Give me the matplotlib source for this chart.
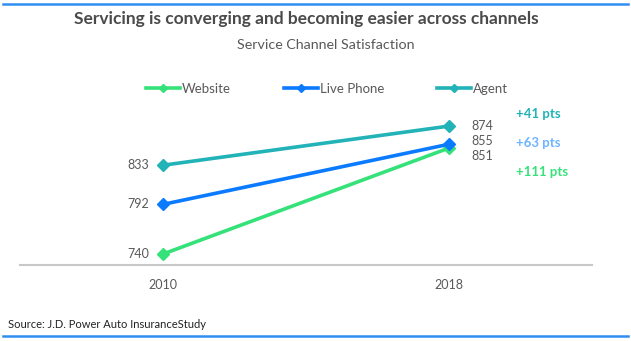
import matplotlib.pyplot as plt
from matplotlib.lines import Line2D

years = ['2010', '2018']
series = ['Website', 'Live Phone', 'Agent']
website = [740, 851]
live_phone = [792, 855]
agent = [833, 874]
gains = ['+111 pts', '+63 pts', '+41 pts']

colors = {'Website': '#35E27A', 'Live Phone': '#0A7BFF', 'Agent': '#22B3B9'}
gain_colors = ['#35E27A', '#6FB4FF', '#22B3B9']
grey = '#595959'

plt.rcParams['font.family'] = ['Lato', 'DejaVu Sans']

fig = plt.figure(figsize=(6.31, 3.41), dpi=100)
ax = fig.add_axes([20/631, (341-265)/341, 572/631, 190/341])

values = {'Website': website, 'Live Phone': live_phone, 'Agent': agent}
x = range(len(years))
for name in series:
    ax.plot(x, values[name], color=colors[name], lw=2.6, marker='D', ms=6,
            solid_capstyle='butt', zorder=3)

# data labels
for name in series:
    ax.annotate(str(values[name][0]), (0, values[name][0]), xytext=(-10, 0),
                textcoords='offset points', ha='right', va='center',
                fontsize=9, color=grey)
right_offsets = {'Agent': 0, 'Live Phone': 2, 'Website': -6}
for name in series:
    ax.annotate(str(values[name][1]), (1, values[name][1]), xytext=(16, right_offsets[name]),
                textcoords='offset points', ha='left', va='center',
                fontsize=9, color=grey)

ax.set_xlim(-0.5, 1.5)
ax.set_ylim(728.5, 927.5)
ax.set_xticks(list(x))
ax.set_xticklabels(years, fontsize=9, color=grey)
ax.set_yticks([])
ax.tick_params(axis='x', length=0, pad=10)
for s in ['top', 'right', 'left']:
    ax.spines[s].set_visible(False)
ax.spines['bottom'].set_color('#C8C8C8')
ax.spines['bottom'].set_linewidth(1.5)

# gains
gain_y = [172, 143, 114]
for g, c, yy in zip(gains, gain_colors, gain_y):
    fig.text(516/631, 1 - yy/341, g, color=c, fontsize=9.5, fontweight='bold',
             ha='left', va='center')

# legend
handles = [Line2D([0], [0], color=colors[n], lw=2.6, marker='D', ms=4) for n in series]
fig.legend(handles, series, loc='center', bbox_to_anchor=(327/631, 1 - 89/341),
           ncol=3, frameon=False, fontsize=9.5, labelcolor=grey,
           handlelength=2.6, handletextpad=0.15, columnspacing=4.0)

fig.text(306/631, 1 - 19/341, 'Servicing is converging and becoming easier across channels',
         ha='center', va='center', fontsize=12.5, fontweight='bold', color='#4A4A4A')
fig.text(326/631, 1 - 45/341, 'Service Channel Satisfaction',
         ha='center', va='center', fontsize=10.3, color=grey)
fig.text(8/631, 1 - 325/341, 'Source: J.D. Power Auto InsuranceStudy',
         ha='left', va='center', fontsize=8, color='#222222')

fig.add_artist(Line2D([3/631, 628/631], [1 - 4/341, 1 - 4/341], color='#2E8FF0', lw=1.8))
fig.add_artist(Line2D([3/631, 628/631], [1 - 336/341, 1 - 336/341], color='#2E8FF0', lw=1.8))

fig.savefig('out.png', dpi=100)
